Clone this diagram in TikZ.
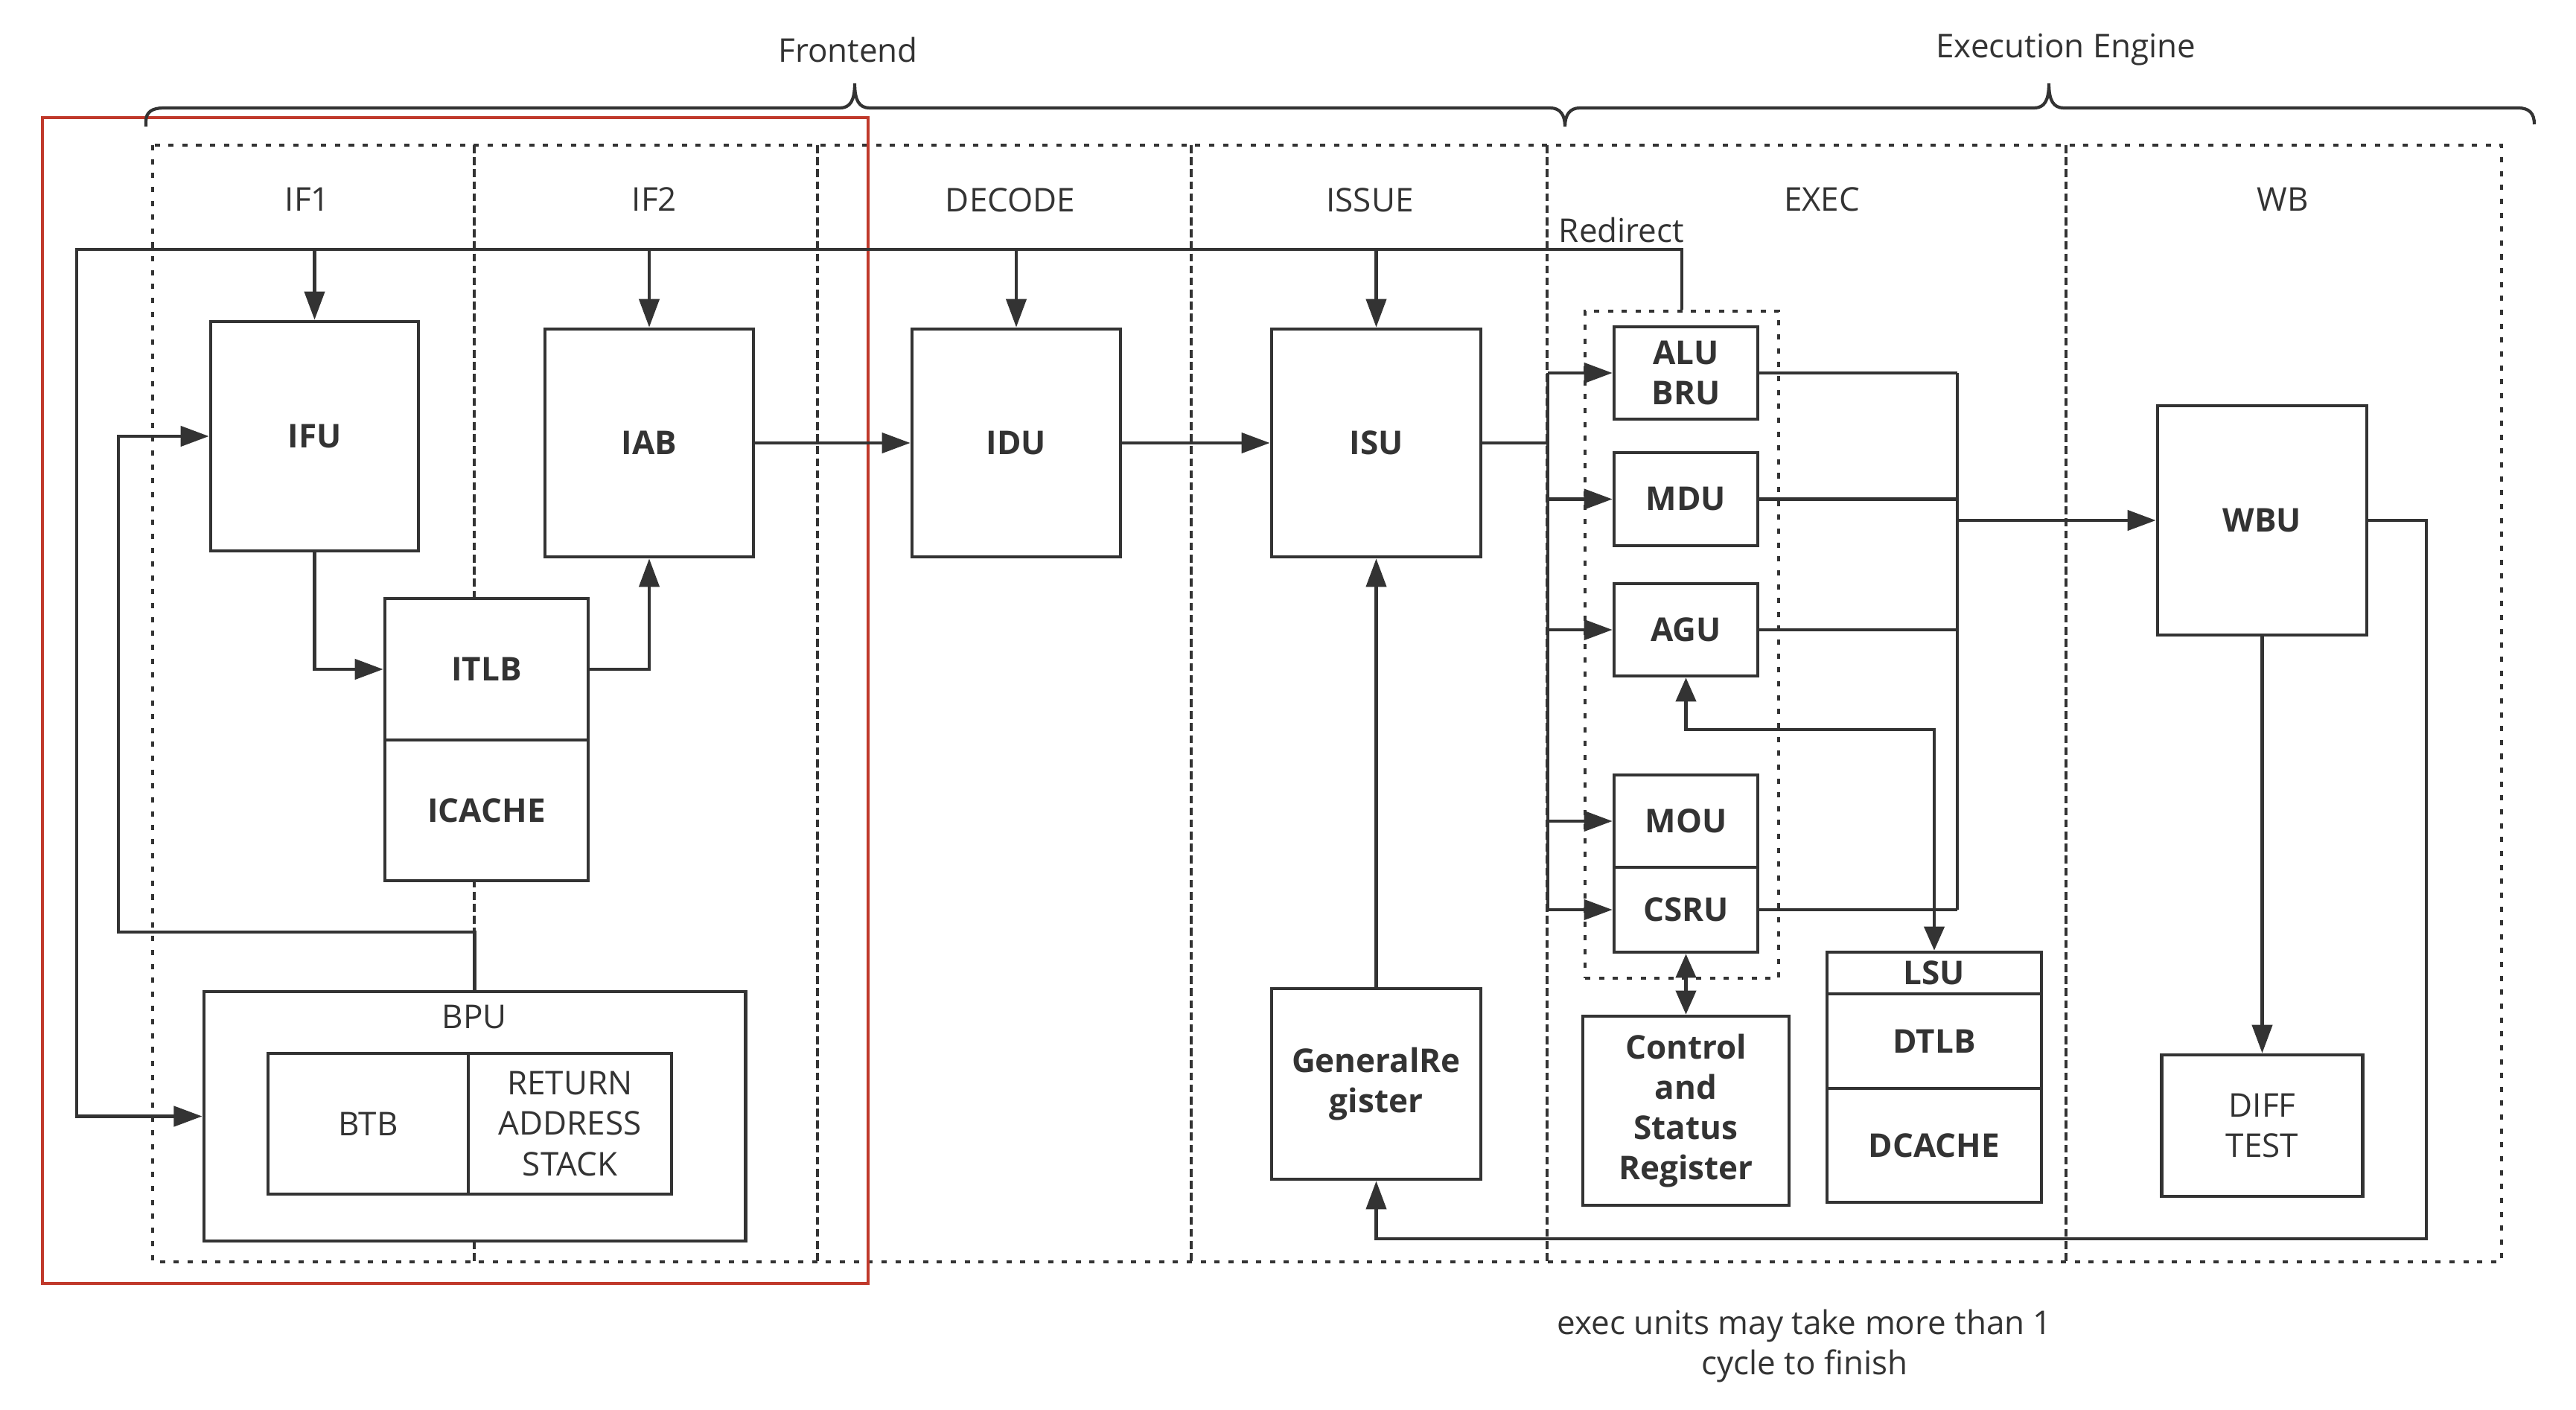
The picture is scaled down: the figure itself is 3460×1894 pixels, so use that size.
\documentclass[tikz,border=0pt]{standalone}
\usepackage{fontspec}
\setmainfont{Open Sans}
\usetikzlibrary{arrows.meta,calc}
\definecolor{ink}{RGB}{51,51,51}
\definecolor{redbox}{RGB}{192,57,43}
\begin{document}
\begin{tikzpicture}[x=0.01cm,y=-0.01cm,
  every node/.style={text=ink, font=\fontsize{12.5}{15.4}\selectfont},
  unit/.style={draw=ink, fill=white, line width=1.3pt, inner sep=0pt, align=center, font=\fontsize{12.5}{15.4}\selectfont\bfseries},
  plainunit/.style={unit, font=\fontsize{12.5}{15.4}\selectfont},
  wire/.style={draw=ink, line width=1.2pt},
  arr/.style={wire, -{Triangle[length=0.38cm,width=0.27cm]}},
  darr/.style={wire, {Triangle[length=0.32cm,width=0.27cm]}-{Triangle[length=0.32cm,width=0.27cm]}},
  stage/.style={draw=ink, line width=0.95pt, dash pattern=on 3pt off 1.6pt},
  dotbox/.style={draw=ink, line width=1.35pt, dash pattern=on 2pt off 3.3pt},
  lbl/.style={inner sep=0pt}
]
\useasboundingbox (0,0) rectangle (3460,1894);

% stage frame and dividers
\draw[dotbox] (205,195) rectangle (3360,1695);
\foreach \x in {637,1098,1600,2078,2775} \draw[stage] (\x,195) -- (\x,1695);

% red highlight
\draw[redbox, line width=0.95pt] (57,158) rectangle (1166,1724);

% braces
\draw[ink, line width=1.2pt] (196,170) -- (196,163) .. controls (196,150) and (205,145) .. (220,145)
  -- (1128,145) .. controls (1142,145) and (1148,135) .. (1148,112)
  .. controls (1148,135) and (1154,145) .. (1168,145)
  -- (2082,145) .. controls (2096,145) and (2102,155) .. (2102,170)
  .. controls (2102,155) and (2108,145) .. (2122,145)
  -- (2732,145) .. controls (2746,145) and (2752,135) .. (2752,112)
  .. controls (2752,135) and (2758,145) .. (2772,145)
  -- (3382,145) .. controls (3397,145) and (3404,152) .. (3404,167);

% titles
\node[lbl] (tfront) at (1139,67) {Frontend};
\node[lbl] (texec) at (2775,67) {Execution Engine};
\node[lbl] (sif1) at (413,268) {IF1};
\node[lbl] (sif2) at (879,268) {IF2};
\node[lbl] (sdec) at (1357,269) {DECODE};
\node[lbl] (siss) at (1840,269) {ISSUE};
\node[lbl] (sexe) at (2447,268) {EXEC};
\node[lbl] (swb) at (3066,268) {WB};
\node[lbl] (redir) at (2178,309) {Redirect};
\node[lbl, align=center] (note) at (2424,1808) {exec units may take more than 1\\cycle to finish};

% group box of exec units
\node[dotbox, line width=1.1pt, inner sep=0pt, minimum width=2.60cm, minimum height=8.96cm] (eugrp) at (2259,866) {};

% units
\node[unit, minimum width=2.79cm, minimum height=3.08cm] (ifu) at (422.5,586) {IFU};
\node[unit, minimum width=2.80cm, minimum height=3.06cm] (iab) at (872,595) {IAB};
\node[unit, minimum width=2.73cm, minimum height=1.90cm] (itlb) at (653.5,899) {ITLB};
\node[unit, minimum width=2.73cm, minimum height=1.89cm] (icache) at (653.5,1088.5) {ICACHE};
\node[unit, minimum width=7.27cm, minimum height=3.35cm] (bpu) at (637.5,1499.5) {};
\node[lbl] (bpulabel) at (637,1366) {BPU};
\node[plainunit, minimum width=2.69cm, minimum height=1.89cm] (btb) at (494.5,1509.5) {BTB};
\node[plainunit, minimum width=2.73cm, minimum height=1.89cm] (ras) at (765.5,1509.5) {RETURN\\ADDRESS\\STACK};
\node[unit, minimum width=2.80cm, minimum height=3.06cm] (idu) at (1365,595) {IDU};
\node[unit, minimum width=2.81cm, minimum height=3.06cm] (isu) at (1848.5,595) {ISU};
\node[unit, minimum width=2.81cm, minimum height=2.56cm] (gr) at (1848.5,1456) {GeneralRe\\gister};
\node[unit, minimum width=1.93cm, minimum height=1.24cm] (alu) at (2264.5,501) {ALU\\BRU};
\node[unit, minimum width=1.93cm, minimum height=1.25cm] (mdu) at (2264.5,670.5) {MDU};
\node[unit, minimum width=1.93cm, minimum height=1.24cm] (agu) at (2264.5,846) {AGU};
\node[unit, minimum width=1.93cm, minimum height=1.24cm] (mou) at (2264.5,1103) {MOU};
\node[unit, minimum width=1.93cm, minimum height=1.14cm] (csru) at (2264.5,1222) {CSRU};
\node[unit, minimum width=2.77cm, minimum height=2.54cm] (csr) at (2264.5,1492) {Control\\and\\Status\\Register};
\node[unit, minimum width=2.88cm, minimum height=0.56cm] (lsu) at (2598,1307) {LSU};
\node[unit, minimum width=2.88cm, minimum height=1.27cm] (dtlb) at (2598,1398.5) {DTLB};
\node[unit, minimum width=2.88cm, minimum height=1.53cm] (dcache) at (2598,1538.5) {DCACHE};
\node[unit, minimum width=2.81cm, minimum height=3.08cm] (wbu) at (3038.5,699) {WBU};
\node[plainunit, minimum width=2.70cm, minimum height=1.90cm] (diff) at (3038.5,1512) {DIFF\\TEST};

% redirect bus
\coordinate (busl) at (103,335);
\draw[arr] (eugrp.north) |- (busl) |- (bpu.west);
\foreach \u in {ifu,iab,idu,isu} \draw[arr] (\u.north |- busl) -- (\u.north);

% frontend
\draw[arr] (ifu.south) |- (itlb.west);
\draw[arr] (itlb.east) -| (iab.south);
\coordinate (fbk) at (159,1252);
\draw[arr] (bpu.north) |- (fbk) |- (ifu.west);
\draw[arr] (iab.east) -- (idu.west);
\draw[arr] (idu.east) -- (isu.west);
\draw[arr] (gr.north) -- (isu.south);

% dispatch
\coordinate (dtop) at (2079,501);
\coordinate (dbot) at (2079,1222);
\draw[wire] (isu.east) -- (isu.east -| dtop);
\draw[wire] (dtop) -- (dbot);
\foreach \u in {alu,mdu,agu,mou,csru} \draw[arr] (dtop |- \u.west) -- (\u.west);

% merge to WBU
\coordinate (mtop) at (2629,501);
\coordinate (mbot) at (2629,1222);
\draw[wire] (mtop) -- (mbot);
\foreach \u in {alu,mdu,agu,csru} \draw[wire] (\u.east) -- (\u.east -| mtop);
\draw[arr] (mtop |- wbu.west) -- (wbu.west);

% AGU <-> LSU, CSRU <-> CSR
\coordinate (agl) at (2264.5,980);
\draw[darr] (agu.south) -- (agl) -| (lsu.north);
\draw[darr] (csru.south) -- (csr.north);

% write back
\draw[arr] (wbu.south) -- (diff.north);
\coordinate (wbr) at (3259,1664);
\draw[arr] (wbu.east) -| (wbr) -| (gr.south);
\end{tikzpicture}
\end{document}
